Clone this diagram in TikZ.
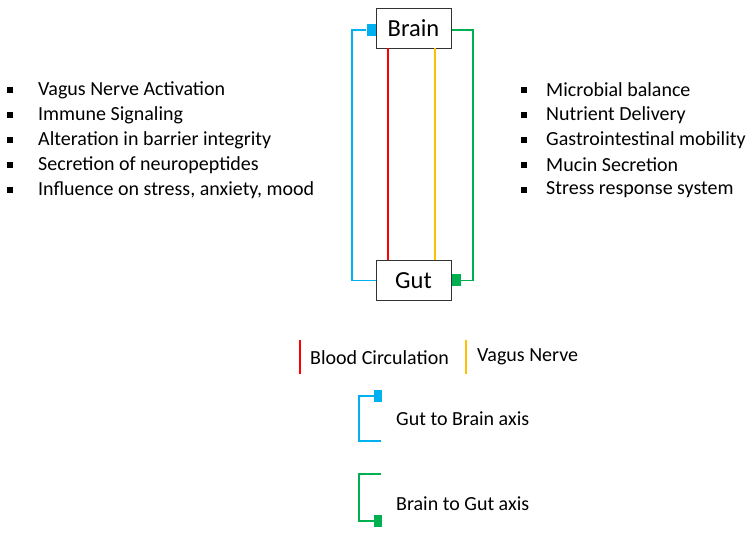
\documentclass[tikz,border=0pt]{standalone}
\usepackage{fontspec}
\setmainfont{Carlito}
\definecolor{cblue}{HTML}{00B0F0}
\definecolor{cgreen}{HTML}{00B050}
\definecolor{cred}{HTML}{FF0000}
\definecolor{cyel}{HTML}{FFC000}
\begin{document}
\begin{tikzpicture}[x=1pt,y=-1pt,
  box/.style={draw=black!80,fill=white,minimum width=75pt,minimum height=40pt,inner sep=0,font=\fontsize{24.5}{28}\selectfont},
  lbl/.style={anchor=west,inner sep=0,font=\fontsize{20}{24}\selectfont},
  bul/.style={fill=black,minimum size=6pt,inner sep=0},
  sq/.style={minimum width=9pt,minimum height=12pt,inner sep=0},
  ln/.style={line width=1.5pt}]
\useasboundingbox (0,0) rectangle (756,537);
\coordinate (g1) at (473,30); \coordinate (g2) at (473,280.5);
\coordinate (gb) at (451,30);
\draw[cgreen,ln] (gb) -- (g1) -- (g2) -- (456,280.5);
\node[box] (brain) at (413.5,28) {Brain};
\node[box] (gut) at (413.5,280.5) {Gut};
\node[sq,fill=cblue] (bsq) at (371,30) {};
\node[sq,fill=cgreen] (gsq) at (456,280.5) {};
\coordinate (b1) at (352,30); \coordinate (b2) at (352,280.5);
\draw[cblue,ln] (bsq.west) -- (b1) -- (b2) -- (gut.west);
\coordinate (r1) at (388,48); \coordinate (r2) at (388,260);
\draw[cred,ln] (r1) -- (r2);
\coordinate (y1) at (435,48); \coordinate (y2) at (435,260);
\draw[cyel,ln] (y1) -- (y2);
\foreach \t [count=\i] in {Vagus Nerve Activation,Immune Signaling,Alteration in barrier integrity,Secretion of neuropeptides,{Influence on stress, anxiety, mood}}{
  \node[bul] (lb\i) at (10,65+25*\i) {};
  \node[lbl] (lt\i) at (38,65+25*\i) {\t};}
\foreach \t [count=\i] in {Microbial balance,Nutrient Delivery,Gastrointestinal mobility,Mucin Secretion,Stress response system}{
  \node[bul] (rb\i) at (524,65+25*\i) {};
  \node[lbl] (rt\i) at (546,65+25*\i) {\t};}
% legend
\coordinate (lr1) at (300,340); \coordinate (lr2) at (300,374);
\draw[cred,ln] (lr1) -- (lr2);
\node[lbl] (lbc) at (310,358) {Blood Circulation};
\coordinate (ly1) at (466,340); \coordinate (ly2) at (466,374);
\draw[cyel,ln] (ly1) -- (ly2);
\node[lbl] (lvn) at (477,357) {Vagus Nerve};
\node[minimum width=8pt,minimum height=12pt,inner sep=0,fill=cblue] (lbsq) at (378,396) {};
\coordinate (lb1) at (359,396); \coordinate (lb2) at (359,441); \coordinate (lb3) at (381,441);
\draw[cblue,ln] (lbsq.west) -- (lb1) -- (lb2) -- (lb3);
\node[lbl] (lgb) at (396,419) {Gut to Brain axis};
\node[minimum width=8pt,minimum height=12pt,inner sep=0,fill=cgreen] (lgsq) at (378,521) {};
\coordinate (lg1) at (381,474); \coordinate (lg2) at (359,474); \coordinate (lg3) at (359,521);
\draw[cgreen,ln] (lg1) -- (lg2) -- (lg3) -- (lgsq.west);
\node[lbl] (lbg) at (396,504) {Brain to Gut axis};
\end{tikzpicture}
\end{document}
